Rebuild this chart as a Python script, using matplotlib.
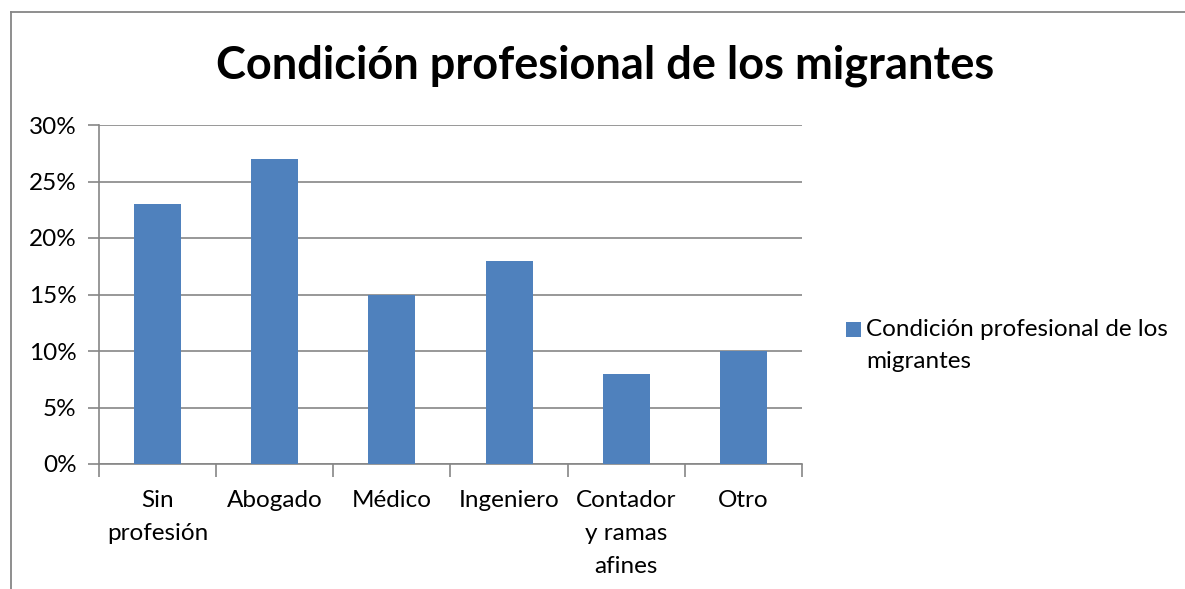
import matplotlib.pyplot as plt
from matplotlib.lines import Line2D
from matplotlib.patches import Rectangle
from matplotlib.ticker import FuncFormatter

plt.rcParams["font.family"] = ["Lato", "DejaVu Sans"]

# datos
categorias = ["Sin\nprofesión", "Abogado", "Médico", "Ingeniero",
              "Contador\ny ramas\nafines", "Otro"]
valores = [23, 27, 15, 18, 8, 10]
serie = "Condición profesional de los migrantes"

BAR = "#4F81BD"
GRID = "#868686"
FS = 17.5

fig = plt.figure(figsize=(11.85, 5.89), dpi=100)
ax = fig.add_axes([99 / 1185, 1 - 464 / 589, 703 / 1185, 339 / 589])

x = range(len(categorias))
ax.bar(x, valores, width=0.40, color=BAR, zorder=3)

ax.set_xlim(-0.5, len(categorias) - 0.5)
ax.set_ylim(0, 30)
ax.set_yticks(range(0, 31, 5))
ax.yaxis.set_major_formatter(FuncFormatter(lambda v, _: f"{v:.0f}%"))
ax.grid(axis="y", color=GRID, linewidth=1.2, zorder=0)

ax.set_xticks(list(x))
ax.set_xticklabels(categorias, fontsize=FS, linespacing=1.7, va="top")
ax.set_xticks([i - 0.5 for i in range(len(categorias) + 1)], minor=True)
ax.tick_params(axis="x", which="major", length=0, pad=19)
ax.tick_params(axis="x", which="minor", length=9, width=1.2, color=GRID, direction="out")
ax.tick_params(axis="y", length=8, width=1.2, color=GRID, labelsize=FS, pad=8)

for s in ["top", "right"]:
    ax.spines[s].set_visible(False)
for s in ["left", "bottom"]:
    ax.spines[s].set_color(GRID)
    ax.spines[s].set_linewidth(1.2)

fig.text(605 / 1185, 1 - 66 / 589, serie, ha="center", va="center",
         fontsize=32.5, fontweight="bold")

# leyenda (cuadro + texto, alineado con la primera línea)
fig.add_artist(Rectangle((846 / 1185, 1 - 337 / 589), 15 / 1185, 15 / 589,
                         transform=fig.transFigure, facecolor=BAR, edgecolor="none"))
fig.text(866 / 1185, 1 - 319 / 589, "Condición profesional de los\nmigrantes",
         ha="left", va="top", fontsize=FS, linespacing=1.65)

# marco del gráfico
fig.add_artist(Line2D([11 / 1185, 11 / 1185], [0, 1 - 12 / 589],
                      transform=fig.transFigure, color=GRID, linewidth=1.3))
fig.add_artist(Line2D([11 / 1185, 1], [1 - 12 / 589, 1 - 12 / 589],
                      transform=fig.transFigure, color=GRID, linewidth=1.3))

fig.savefig("out.png", dpi=100)
